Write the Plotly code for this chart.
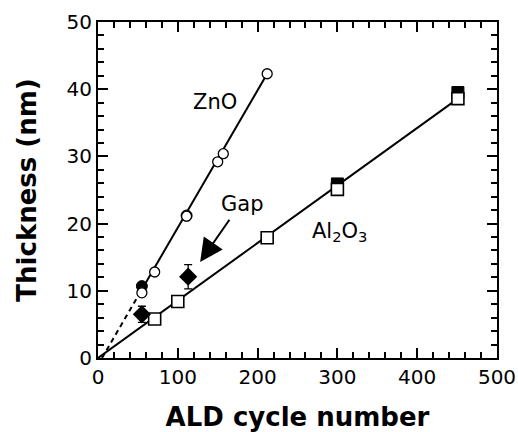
import plotly.graph_objects as go

# ZnO (open circles)
zno_x = [55, 71, 111, 150, 157, 212]
zno_y = [9.7, 12.8, 21.1, 29.2, 30.4, 42.3]
# ZnO filled circles
zno_f_x = [55, 111]
zno_f_y = [10.7, 21.2]
# Al2O3 open squares
al_x = [71, 100, 212, 300, 451]
al_y = [5.8, 8.4, 17.9, 25.1, 38.6]
# Al2O3 filled squares
al_f_x = [300, 451]
al_f_y = [25.9, 39.5]
# Gap (filled diamonds with error bars)
gap_x = [55, 113]
gap_y = [6.5, 12.1]
gap_err = [1.2, 1.8]
# Fit lines
zno_fit_x = [55, 212]
zno_fit_y = [10.2, 42.3]
zno_ext_x = [5, 55]
zno_ext_y = [0, 10.2]
al_fit_x = [0, 451]
al_fit_y = [0, 38.6]

FONT = "DejaVu Sans, sans-serif"
fig = go.Figure()
fig.add_trace(go.Scatter(x=zno_ext_x, y=zno_ext_y, mode="lines",
                         line=dict(color="black", width=2, dash="5px,4px")))
fig.add_trace(go.Scatter(x=zno_fit_x, y=zno_fit_y, mode="lines",
                         line=dict(color="black", width=2)))
fig.add_trace(go.Scatter(x=al_fit_x, y=al_fit_y, mode="lines",
                         line=dict(color="black", width=2)))
fig.add_trace(go.Scatter(x=zno_f_x, y=zno_f_y, mode="markers",
                         marker=dict(symbol="circle", size=11, color="black",
                                     line=dict(color="black", width=1))))
fig.add_trace(go.Scatter(x=zno_x, y=zno_y, mode="markers",
                         marker=dict(symbol="circle", size=10, color="white",
                                     line=dict(color="black", width=1.3))))
fig.add_trace(go.Scatter(x=al_f_x, y=al_f_y, mode="markers",
                         marker=dict(symbol="square", size=12, color="black",
                                     line=dict(color="black", width=1))))
fig.add_trace(go.Scatter(x=al_x, y=al_y, mode="markers",
                         marker=dict(symbol="square", size=12, color="white",
                                     line=dict(color="black", width=1.6))))
fig.add_trace(go.Scatter(x=gap_x, y=gap_y, mode="markers",
                         error_y=dict(type="data", array=gap_err, color="black",
                                      thickness=1.3, width=4),
                         marker=dict(symbol="diamond", size=14, color="black")))

fig.add_annotation(x=147, y=38.1, text="ZnO", showarrow=False,
                   font=dict(family=FONT, size=21, color="black"))
fig.add_annotation(x=180, y=22.9, text="Gap", showarrow=False,
                   font=dict(family=FONT, size=21, color="black"))
fig.add_annotation(x=302, y=18.8, text="Al<sub>2</sub>O<sub>3</sub>", showarrow=False,
                   font=dict(family=FONT, size=21, color="black"))
fig.add_annotation(x=128, y=14.3, ax=166, ay=20.8, xref="x", yref="y",
                   axref="x", ayref="y", text="", showarrow=True,
                   arrowhead=2, arrowsize=2.3, arrowwidth=2, arrowcolor="black")

axis_common = dict(showline=True, linecolor="black", linewidth=2, mirror="allticks",
                   ticks="inside", ticklen=10, tickwidth=1.5, tickcolor="black",
                   showgrid=False, zeroline=False, automargin=False,
                   tickfont=dict(family=FONT, size=20, color="black"))
fig.update_xaxes(range=[0, 500], dtick=100,
                 minor=dict(dtick=20, ticks="inside", ticklen=6, tickwidth=1.5, tickcolor="black"),
                 title=dict(text="<b>ALD cycle number</b>", standoff=20,
                            font=dict(family=FONT, size=26, color="black")),
                 **axis_common)
fig.update_yaxes(range=[0, 50], dtick=10,
                 minor=dict(dtick=2, ticks="inside", ticklen=6, tickwidth=1.5, tickcolor="black"),
                 title=dict(text="<b>Thickness (nm)</b>", standoff=22,
                            font=dict(family=FONT, size=26, color="black")),
                 **axis_common)
fig.update_layout(width=518, height=432, showlegend=False,
                  margin=dict(l=98, r=21, t=22, b=74),
                  plot_bgcolor="white", paper_bgcolor="white")
fig.write_html("out.html")
